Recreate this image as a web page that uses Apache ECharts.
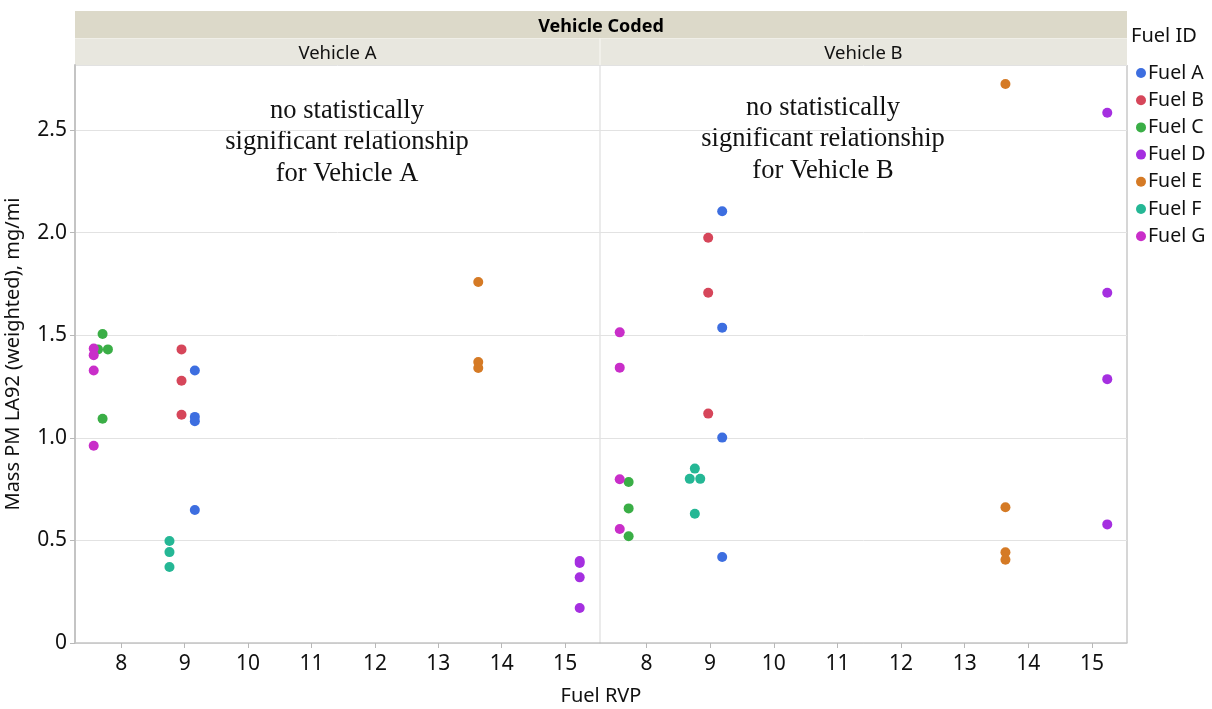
<!DOCTYPE html>
<html>
<head>
<meta charset="utf-8">
<script src="https://cdn.jsdelivr.net/npm/echarts@6/dist/echarts.min.js"></script>
<style>
  html, body { margin: 0; padding: 0; background: #fff; }
  #chart { width: 1212px; height: 709px; }
</style>
</head>
<body>
<div id="chart"></div>
<script>
  // fuel names and colours
  const fuels = ['Fuel A', 'Fuel B', 'Fuel C', 'Fuel D', 'Fuel E', 'Fuel F', 'Fuel G'];
  const fuelColors = ['#3d6ee0', '#d6465a', '#3aae46', '#a52fe0', '#d57a25', '#25b795', '#c92ec9'];

  // [Fuel RVP, Mass PM] per fuel, Vehicle A
  const vehA_A = [[9.16, 1.328], [9.16, 1.102], [9.16, 1.081], [9.16, 0.648]];
  const vehA_B = [[8.95, 1.431], [8.95, 1.278], [8.95, 1.112]];
  const vehA_C = [[7.705, 1.506], [7.633, 1.431], [7.789, 1.431], [7.705, 1.093]];
  const vehA_D = [[15.23, 0.40], [15.23, 0.39], [15.23, 0.32], [15.23, 0.171]];
  const vehA_E = [[13.63, 1.759], [13.63, 1.369], [13.63, 1.34]];
  const vehA_F = [[8.76, 0.497], [8.76, 0.443], [8.76, 0.370]];
  const vehA_G = [[7.565, 1.435], [7.565, 1.403], [7.565, 1.328], [7.565, 0.961]];

  // Vehicle B
  const vehB_A = [[9.19, 2.104], [9.19, 1.537], [9.19, 1.001], [9.19, 0.419]];
  const vehB_B = [[8.97, 1.975], [8.97, 1.707], [8.97, 1.118]];
  const vehB_C = [[7.72, 0.785], [7.72, 0.656], [7.72, 0.52]];
  const vehB_D = [[15.24, 2.584], [15.24, 1.707], [15.24, 1.286], [15.24, 0.578]];
  const vehB_E = [[13.64, 2.724], [13.64, 0.662], [13.64, 0.442], [13.64, 0.406]];
  const vehB_F = [[8.76, 0.85], [8.68, 0.80], [8.845, 0.80], [8.76, 0.63]];
  const vehB_G = [[7.58, 1.514], [7.58, 1.342], [7.58, 0.798], [7.58, 0.556]];

  const xTicks = [8, 9, 10, 11, 12, 13, 14, 15];
  const vehicles = ['Vehicle A', 'Vehicle B'];

  const vehData = [
    [vehA_A, vehA_B, vehA_C, vehA_D, vehA_E, vehA_F, vehA_G],
    [vehB_A, vehB_B, vehB_C, vehB_D, vehB_E, vehB_F, vehB_G]
  ];

  const font = 'Noto Sans';
  const L = 75, MID = 600, R = 1127, TOP = 65, BOT = 643;

  let myChart = echarts.init(document.getElementById('chart'));

  function makeX(idx) {
    return {
      type: 'value', gridIndex: idx, min: 7.27, max: 15.55,
      axisLine: { show: true, lineStyle: { color: '#c4c4c4', width: 1.5 } },
      axisTick: { show: true, customValues: xTicks, length: 5, lineStyle: { color: '#b8b8b8' } },
      axisLabel: { customValues: xTicks, color: '#111', fontSize: 21, fontFamily: font, margin: 11 },
      splitLine: { show: false }
    };
  }

  function makeY(idx) {
    return {
      type: 'value', gridIndex: idx, min: 0, max: 2.817, interval: 0.5,
      name: idx === 0 ? 'Mass PM LA92 (weighted), mg/mi' : '',
      nameLocation: 'middle', nameGap: 52,
      nameTextStyle: { color: '#111', fontSize: 20, fontFamily: font },
      axisLine: { show: idx === 0, lineStyle: { color: '#c4c4c4', width: 2 } },
      axisTick: { show: idx === 0, length: 5, lineStyle: { color: '#b8b8b8' } },
      axisLabel: {
        show: idx === 0, showMaxLabel: false, color: '#111', fontSize: 21, fontFamily: font, margin: 8,
        formatter: v => v === 0 ? '0' : v.toFixed(1)
      },
      splitLine: { show: true, lineStyle: { color: '#e2e2e2', width: 1 } }
    };
  }

  let series = [];
  vehData.forEach((group, gi) => {
    group.forEach((pts, fi) => {
      series.push({
        name: fuels[fi], type: 'scatter', xAxisIndex: gi, yAxisIndex: gi,
        symbolSize: 10, data: pts,
        itemStyle: { color: fuelColors[fi], opacity: 1 }
      });
    });
  });

  const noteStyle = { fontFamily: 'Liberation Serif', fontSize: 26.5, fill: '#111', align: 'center', lineHeight: 31.5 };

  let option = {
    animation: false,
    color: fuelColors,
    grid: [
      { left: L, top: TOP, width: MID - L, height: BOT - TOP },
      { left: MID, top: TOP, width: R - MID, height: BOT - TOP }
    ],
    xAxis: [makeX(0), makeX(1)],
    yAxis: [makeY(0), makeY(1)],
    legend: {
      data: fuels, orient: 'vertical', left: 1131, top: 58,
      icon: 'circle', itemWidth: 10, itemHeight: 10, itemGap: 7.2,
      textStyle: { fontSize: 19.5, fontFamily: font, color: '#111', lineHeight: 19, padding: [0, 0, 0, -3] }
    },
    series: series,
    graphic: [
      // header bands
      { type: 'rect', shape: { x: L, y: 11, width: R - L, height: 27 }, style: { fill: '#dcd9c9' } },
      { type: 'rect', shape: { x: L, y: 38, width: R - L, height: 27 }, style: { fill: '#e8e7df' } },
      { type: 'line', shape: { x1: L, y1: 38.5, x2: R, y2: 38.5 }, style: { stroke: '#f0efe8', lineWidth: 1 } },
      { type: 'line', shape: { x1: MID, y1: 38, x2: MID, y2: 65 }, style: { stroke: '#f4f3ee', lineWidth: 1.5 } },
      { type: 'text', x: (L + R) / 2, y: 27, style: { text: 'Vehicle Coded', fontFamily: font, fontWeight: 'bold', fontSize: 18, fill: '#000', align: 'center', verticalAlign: 'middle' } },
      { type: 'text', x: (L + MID) / 2, y: 54, style: { text: vehicles[0], fontFamily: font, fontSize: 18.5, fill: '#111', align: 'center', verticalAlign: 'middle' } },
      { type: 'text', x: (MID + R) / 2, y: 54, style: { text: vehicles[1], fontFamily: font, fontSize: 18.5, fill: '#111', align: 'center', verticalAlign: 'middle' } },
      // panel borders
      { type: 'line', shape: { x1: MID, y1: TOP, x2: MID, y2: BOT }, style: { stroke: '#e4e4e4', lineWidth: 1.5 } },
      { type: 'line', shape: { x1: R, y1: TOP, x2: R, y2: BOT }, style: { stroke: '#c8c8c8', lineWidth: 1.5 } },
      // legend title
      { type: 'text', x: 1131, y: 36, style: { text: 'Fuel ID', fontFamily: font, fontSize: 20, fill: '#111', verticalAlign: 'middle' } },
      // x axis name
      { type: 'text', x: (L + R) / 2, y: 696, style: { text: 'Fuel RVP', fontFamily: font, fontSize: 20, fill: '#111', align: 'center', verticalAlign: 'middle' } },
      // annotations
      { type: 'text', x: 347, y: 95, style: Object.assign({ text: 'no statistically\nsignificant relationship\nfor Vehicle A' }, noteStyle) },
      { type: 'text', x: 823, y: 92, style: Object.assign({ text: 'no statistically\nsignificant relationship\nfor Vehicle B' }, noteStyle) }
    ]
  };

  myChart.setOption(option);
</script>
</body>
</html>
